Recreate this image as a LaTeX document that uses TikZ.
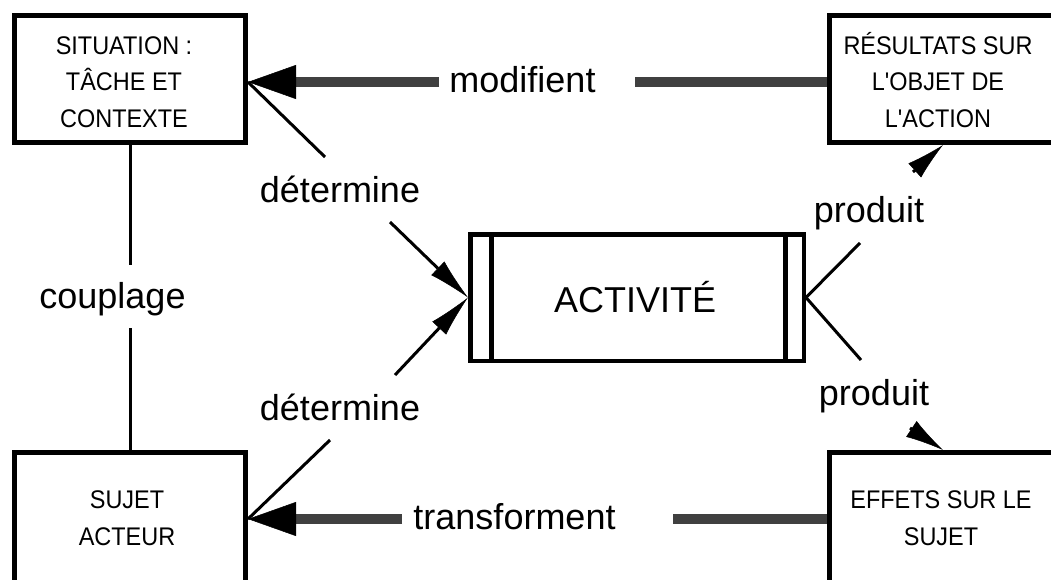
\documentclass[tikz,border=0pt]{standalone}
\usepackage{fontspec}
\setmainfont{Liberation Sans}
\newfontfamily\boxfont{Liberation Sans}[FakeStretch=0.92]
\usetikzlibrary{arrows.meta,calc}
\begin{document}
\begin{tikzpicture}[x=1pt,y=-1pt,
  box/.style={draw, line width=5pt, inner sep=0pt, minimum height=127pt},
  boxtxt/.style={inner sep=0pt, anchor=base, align=center, font=\boxfont\fontsize{25.5}{36.5}\selectfont},
  lbl/.style={inner sep=0pt, anchor=base, font=\fontsize{36}{40}\selectfont},
  grayline/.style={draw=black!75, line width=10pt},
  bigtip/.style={-{Triangle[length=48pt,width=34pt,line width=0.5pt,color=black,fill=black]}},
  thinline/.style={line width=3pt},
  dettip/.style={-{Latex[length=42pt,width=19pt,line width=0.5pt]}},
  wedge/.style={line width=3pt,-{Latex[length=38pt,width=19pt,line width=0.5pt]}}
]
\useasboundingbox (0,0) rectangle (1051,579);
\clip (0,0) rectangle (1051,579);
% boxes
\node[box, minimum width=231pt] (sit) at (130,79) {};
\node[box, minimum width=224pt] (res) at (941.5,79) {};
\node[box, minimum width=231pt, minimum height=133pt] (suj) at (130,519) {};
\node[box, minimum width=224pt, minimum height=133pt] (eff) at (941.5,519) {};
\node[draw, line width=4.5pt, inner sep=0pt, minimum width=333.5pt, minimum height=126.5pt] (act) at (637,297.5) {};
\draw[line width=5pt] ([xshift=23pt]act.north west) -- ([xshift=23pt]act.south west);
\draw[line width=5pt] ([xshift=-20.5pt]act.north east) -- ([xshift=-20.5pt]act.south east);
% box texts (anchored at the baseline of the last line)
\node[boxtxt] (sitT) at (124,127) {SITUATION :\\TÂCHE ET\\CONTEXTE};
\node[boxtxt] (resT) at (938,127) {RÉSULTATS SUR\\L'OBJET DE\\L'ACTION};
\node[boxtxt] (sujT) at (127,545) {SUJET\\ACTEUR};
\node[boxtxt] (effT) at (941,545) {EFFETS SUR LE\\SUJET};
\node[lbl] (actT) at (635,312) {ACTIVITÉ};
% labels
\node[lbl] (lmod) at (522.5,92) {modifient};
\node[lbl] (ltra) at (514.5,529) {transforment};
\node[lbl] (ldet1) at (340,202) {détermine};
\node[lbl] (ldet2) at (340,420) {détermine};
\node[lbl] (lcou) at (112.5,308) {couplage};
\node[lbl] (lpro1) at (869,222) {produit};
\node[lbl] (lpro2) at (874,405) {produit};
% coordinates
\coordinate (sitE) at ([yshift=-3pt]sit.east);
\coordinate (resW) at ([yshift=-3pt]res.west);
\coordinate (m1) at (439,82);
\coordinate (m2) at (635,82);
\coordinate (t1) at (402,519);
\coordinate (t2) at (673,519);
\coordinate (d1a) at (325,157);
\coordinate (d1b) at (390,222);
\coordinate (d2a) at (330,440);
\coordinate (d2b) at (395,375);
\coordinate (cpA) at (130,265);
\coordinate (cpB) at (130,328);
\coordinate (p1a) at (860,243);
\coordinate (p2a) at (861,360);
\coordinate (p1b) at (913,172);
\coordinate (p2b) at (910,428);
\coordinate (resIn) at (943,0 |- res.south);
\coordinate (effIn) at (943,0 |- eff.north);
% connectors
\draw[grayline] (resW) -- (m2);
\draw[grayline, bigtip] (m1) -- (sitE);
\draw[grayline] (eff.west) -- (t2);
\draw[grayline, bigtip] (t1) -- (suj.east);
\draw[thinline] (sitE) -- (d1a);
\draw[thinline, dettip] (d1b) -- (act.west);
\draw[thinline] (d2a) -- (suj.east);
\draw[thinline, dettip] (d2b) -- (act.west);
\draw[thinline] (sit.south) -- (cpA);
\draw[thinline] (cpB) -- (suj.north);
\draw[thinline] (act.east) -- (p1a);
\draw[thinline] (act.east) -- (p2a);
\draw[wedge] (p1b) -- (resIn);
\draw[wedge] (p2b) -- (effIn);
\end{tikzpicture}
\end{document}
